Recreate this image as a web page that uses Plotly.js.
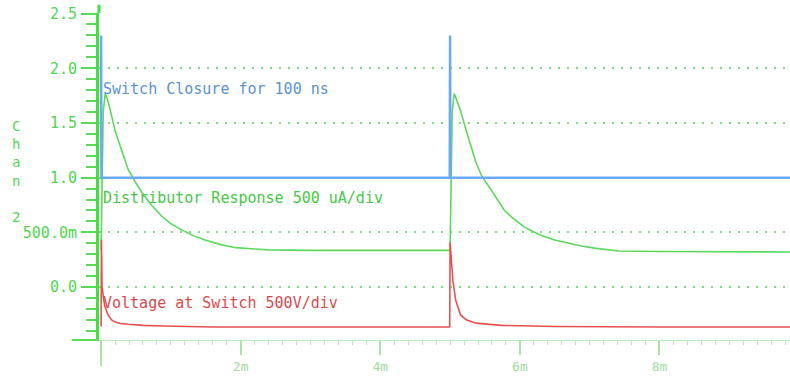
<!DOCTYPE html>
<html>
<head>
<meta charset="utf-8">
<script src="https://cdn.plot.ly/plotly-3.0.1.min.js"></script>
<style>html,body{margin:0;padding:0;background:#fff;}#chart{width:790px;height:385px;}</style>
</head>
<body>
<div id="chart"></div>
<script>
// Time axis in ms ("m")
const blueT = [0, 0.005, 4.995, 5.0, 5.005, 9.9];
const blueV = [2.3, 1.0, 1.0, 2.3, 1.0, 1.0];

const greenT = [0, 0.03, 0.06, 0.09, 0.13, 0.2, 0.3, 0.39, 0.49, 0.59, 0.72, 0.88, 1.0, 1.16, 1.32, 1.49, 1.7, 1.93, 2.15, 2.4, 3.0, 4.0, 4.995, 5.0, 5.03, 5.06, 5.1, 5.16, 5.23, 5.30, 5.37, 5.45, 5.52, 5.59, 5.68, 5.78, 5.9, 6.06, 6.18, 6.31, 6.5, 6.70, 6.88, 7.07, 7.41, 8.0, 9.0, 9.9];
const greenV = [0.34, 1.6, 1.77, 1.72, 1.62, 1.43, 1.24, 1.07, 0.96, 0.86, 0.75, 0.64, 0.58, 0.52, 0.47, 0.43, 0.39, 0.36, 0.35, 0.34, 0.335, 0.335, 0.335, 0.335, 1.6, 1.77, 1.7, 1.59, 1.43, 1.28, 1.14, 1.02, 0.95, 0.885, 0.79, 0.70, 0.63, 0.55, 0.51, 0.47, 0.43, 0.40, 0.375, 0.356, 0.33, 0.325, 0.32, 0.32];

const redT = [0, 0.005, 0.014, 0.05, 0.1, 0.15, 0.2, 0.28, 0.39, 0.6, 0.88, 1.6, 3.0, 4.995, 5.0, 5.04, 5.08, 5.15, 5.23, 5.37, 5.73, 6.5, 8.0, 9.9];
const redV = [-0.36, 0.43, 0.0, -0.17, -0.255, -0.3, -0.32, -0.333, -0.34, -0.35, -0.356, -0.365, -0.365, -0.365, 0.41, 0.06, -0.12, -0.255, -0.30, -0.33, -0.35, -0.36, -0.365, -0.365];

const yTickVals = [0, 0.5, 1.0, 1.5, 2.0, 2.5];
const yTickText = ['0.0', '500.0m', '1.0', '1.5', '2.0', '2.5'];
const xTickVals = [0, 2, 4, 6, 8];
const xTickText = ['', '2m', '4m', '6m', '8m'];
const xMidTicks = [1, 3, 5, 7, 9];

const labels = [
  {text: 'Switch Closure for 100 ns', y: 1.81, color: '#5a92d6'},
  {text: 'Distributor Response 500 uA/div', y: 0.81, color: '#46c846'},
  {text: 'Voltage at Switch 500V/div', y: -0.15, color: '#d84a4a'}
];

const mono = '"DejaVu Sans Mono", "Liberation Mono", monospace';

const traces = [
  {x: greenT, y: greenV, mode: 'lines', line: {color: '#5cd85c', width: 1.6}, hoverinfo: 'skip'},
  {x: redT, y: redV, mode: 'lines', line: {color: '#e85050', width: 1.6}, hoverinfo: 'skip'},
  {x: blueT, y: blueV, mode: 'lines', line: {color: '#6aaaf0', width: 2.5}, hoverinfo: 'skip'}
];

const annotations = labels.map(l => ({
  x: 0, y: l.y, xref: 'x', yref: 'y', xanchor: 'left', yanchor: 'middle',
  text: l.text, showarrow: false, font: {family: mono, size: 15, color: l.color}
}));
annotations.push({
  x: -0.1195, y: 0.514, xref: 'paper', yref: 'paper', xanchor: 'center', yanchor: 'middle',
  text: 'C<br>h<br>a<br>n<br> <br>2', showarrow: false, align: 'center',
  font: {family: mono, size: 14, color: '#55d855'}
});

const layout = {
  width: 790, height: 385,
  margin: {l: 99, r: 0, t: 13, b: 45},
  paper_bgcolor: '#ffffff', plot_bgcolor: '#ffffff',
  showlegend: false,
  xaxis: {
    range: [-0.03, 9.87], showgrid: false, zeroline: false,
    showline: true, linecolor: '#b8e8b8', linewidth: 1,
    tickmode: 'array', tickvals: xTickVals, ticktext: xTickText,
    ticks: 'outside', ticklen: 14, tickwidth: 2, tickcolor: '#a8e2a8',
    tickfont: {family: mono, size: 13, color: '#a0dca0'},
    minor: {dtick: 0.2, ticks: 'outside', ticklen: 4, tickwidth: 1, tickcolor: '#b8e8b8', showgrid: false},
    fixedrange: true
  },
  xaxis2: {
    overlaying: 'x', anchor: 'y', side: 'bottom', range: [-0.03, 9.87],
    tickmode: 'array', tickvals: xMidTicks, ticktext: xMidTicks.map(() => ''),
    ticks: 'outside', ticklen: 8, tickwidth: 2, tickcolor: '#a8e2a8',
    showgrid: true, gridcolor: '#f4f4f4', gridwidth: 1,
    showline: false, zeroline: false, fixedrange: true
  },
  yaxis: {
    range: [-0.484, 2.505], zeroline: false,
    showline: true, linecolor: '#44dd44', linewidth: 3,
    tickmode: 'array', tickvals: yTickVals, ticktext: yTickText,
    ticks: 'outside', ticklen: 15, tickwidth: 2, tickcolor: '#55dd55',
    tickfont: {family: mono, size: 15, color: '#4fd64f'},
    ticklabelstandoff: 1,
    showgrid: true, gridcolor: '#7ddc7d', gridwidth: 2, griddash: '2px,7px',
    minor: {dtick: 0.1, ticks: 'outside', ticklen: 10, tickwidth: 2, tickcolor: '#55dd55', showgrid: false},
    fixedrange: true
  },
  annotations: annotations,
  shapes: [
    {type: 'line', xref: 'paper', yref: 'paper', x0: 0, x1: 0, y0: 1, y1: 1.025, line: {color: '#44dd44', width: 3}},
    {type: 'line', xref: 'paper', yref: 'paper', x0: -0.039, x1: 0, y0: 0, y1: 0, line: {color: '#55dd55', width: 2}},
    {type: 'line', xref: 'x', yref: 'paper', x0: 0, x1: 0, y0: 0, y1: -0.08, line: {color: '#a8e2a8', width: 2}}
  ]
};

Plotly.newPlot('chart', traces, layout, {displayModeBar: false, staticPlot: true});
</script>
</body>
</html>
